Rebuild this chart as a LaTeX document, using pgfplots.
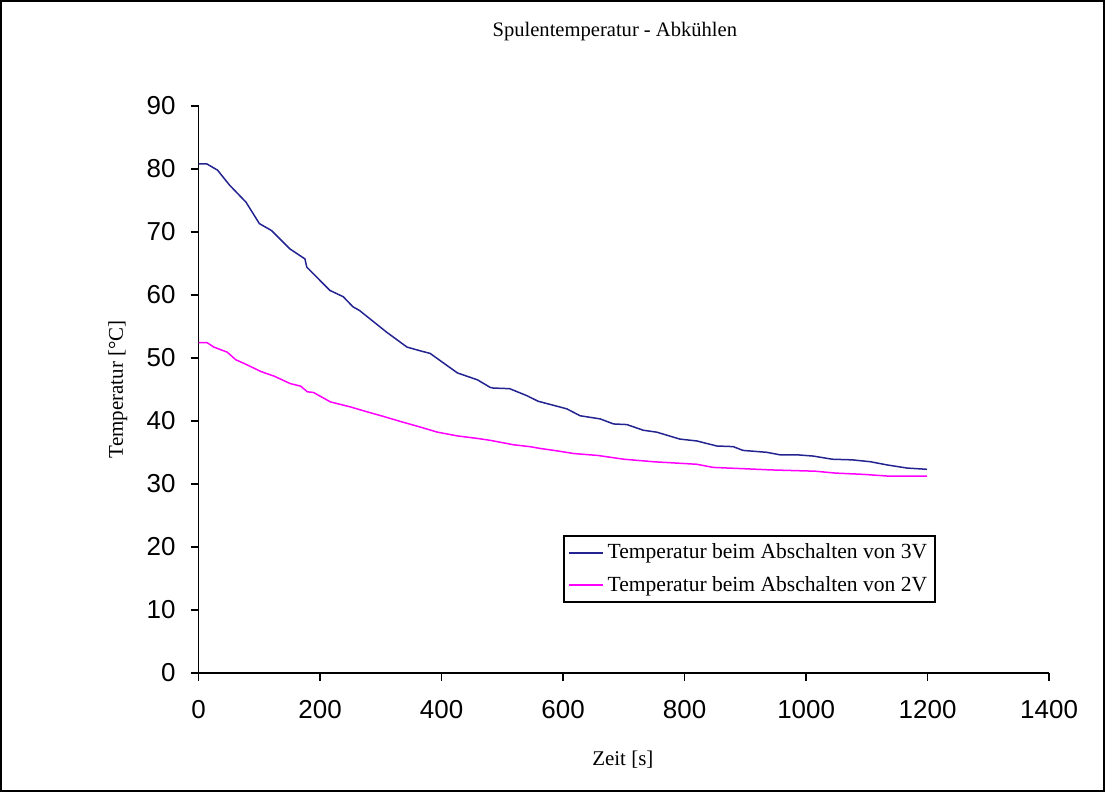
\documentclass[border=0pt]{standalone}
\usepackage{fontspec}
\setmainfont{Liberation Serif}
\newfontfamily\ticksfont{Liberation Sans}
\usepackage{pgfplots}
\pgfplotsset{compat=1.18}
\definecolor{serA}{RGB}{35,35,145}
\definecolor{serB}{RGB}{255,0,255}
\begin{document}
\begin{tikzpicture}
\begin{axis}[
  at={(0pt,0pt)}, anchor=south west,
  scale only axis, width=426pt, height=284pt,
  xmin=0, xmax=1400, ymin=0, ymax=90,
  xtick={0,200,...,1400}, ytick={0,10,...,90},
  axis x line*=bottom, axis y line*=left,
  axis line style={black, line width=0.8pt},
  tick align=outside, major tick length=4pt,
  tick style={black, line width=0.8pt},
  tick label style={font=\ticksfont\fontsize{13}{15}\selectfont},
  /pgf/number format/assume math mode=true,
  /pgf/number format/1000 sep={},
  xticklabel style={yshift=-6.5pt},
  yticklabel style={xshift=-4pt},
  title={Spulentemperatur - Abkühlen},
  every axis title/.style={at={(axis description cs:0.4894,1.1303)}, anchor=center, font=\fontsize{10.3}{12}\selectfont},
  xlabel={Zeit [s]},
  every axis x label/.style={at={(axis description cs:0.4988,-0.153)}, anchor=center, font=\fontsize{10.5}{12}\selectfont},
  ylabel={Temperatur [°C]},
  every axis y label/.style={at={(axis description cs:-0.0951,0.5)}, anchor=center, rotate=90, font=\fontsize{10.5}{12}\selectfont},
  legend style={at={(rel axis cs:0.4284,0.243)}, anchor=north west,
    font=\fontsize{10.8}{12.5}\selectfont, draw=black, line width=0.8pt,
    inner xsep=2pt, inner ysep=2pt, row sep=3.2pt,
    cells={anchor=west}},
  legend image post style={line width=0.9pt},
  legend cell align=left,
]
\addplot[serA, line width=0.75pt] coordinates {
(0,80.8) (13,80.8) (31,79.8) (51,77.4) (78,74.7) (100,71.3) (120,70.2)
(150,67.3) (175,65.7) (178,64.4) (216,60.7) (238,59.7) (254,58.1) (265,57.5)
(309,54.1) (343,51.7) (365,51.1) (381,50.7) (426,47.6) (459,46.5) (480,45.3)
(485,45.2) (512,45.1) (540,44.0) (559,43.1) (606,41.9) (628,40.8) (661,40.3)
(683,39.5) (705,39.4) (732,38.5) (754,38.2) (792,37.1) (820,36.8) (853,36.0)
(880,35.9) (896,35.3) (935,35.0) (957,34.6) (985,34.6) (1012,34.4) (1043,33.9)
(1076,33.8) (1106,33.5) (1133,33.0) (1166,32.5) (1199,32.3)
};
\addlegendentry{Temperatur beim Abschalten von 3V}
\addplot[serB, line width=0.75pt] coordinates {
(0,52.4) (14,52.4) (25,51.7) (47,50.9) (61,49.7) (75,49.1) (103,47.8)
(124,47.1) (151,45.9) (168,45.5) (179,44.6) (189,44.5) (217,43.0) (250,42.2)
(271,41.6) (304,40.7) (332,39.9) (365,39.0) (393,38.2) (426,37.6) (459,37.2)
(480,36.9) (518,36.2) (545,35.9) (563,35.6) (585,35.3) (618,34.8) (657,34.5)
(700,33.9) (749,33.5) (820,33.1) (847,32.6) (896,32.4) (943,32.2) (1015,32.0)
(1048,31.7) (1094,31.5) (1138,31.2) (1199,31.2)
};
\addlegendentry{Temperatur beim Abschalten von 2V}
\end{axis}
\draw[black, line width=1pt] (-99pt,-59pt) rectangle (453.5pt,336.5pt);
\end{tikzpicture}
\end{document}
